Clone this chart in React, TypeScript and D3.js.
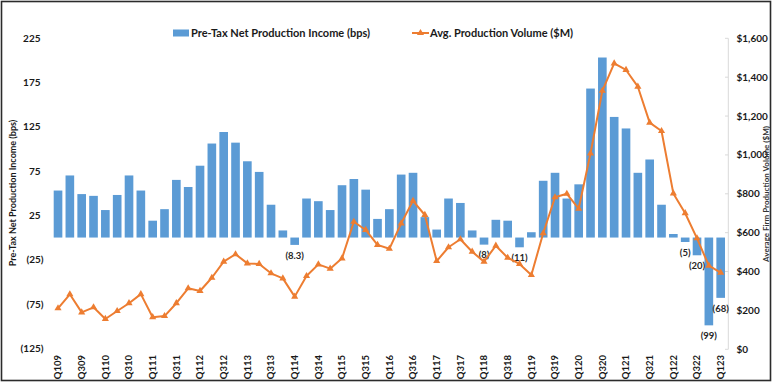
import React from "react";
import * as d3 from "d3";

const quarters = [
  "Q109","Q209","Q309","Q409","Q110","Q210","Q310","Q410","Q111","Q211","Q311","Q411",
  "Q112","Q212","Q312","Q412","Q113","Q213","Q313","Q413","Q114","Q214","Q314","Q414",
  "Q115","Q215","Q315","Q415","Q116","Q216","Q316","Q416","Q117","Q217","Q317","Q417",
  "Q118","Q218","Q318","Q418","Q119","Q219","Q319","Q419","Q120","Q220","Q320","Q420",
  "Q121","Q221","Q321","Q421","Q122","Q222","Q322","Q422","Q123",
];

const incomeBps = [
  53, 70, 49, 47, 31, 48, 70, 53, 19, 32, 65, 57, 81, 106, 119, 107, 86, 74, 37, 8,
  -8.3, 44, 41, 31, 59, 66, 54, 21, 32, 71, 73, 23, 9, 44, 39, 8, -8, 20, 19, -11,
  6, 64, 73, 44, 60, 168, 203, 136, 123, 73, 88, 37, 4, -5, -20, -99, -68,
];

const volumeM = [
  211, 283, 190, 216, 156, 197, 237, 284, 165, 171, 237, 314, 300, 368, 451, 489, 442, 439, 391, 365,
  271, 377, 437, 415, 468, 656, 614, 537, 517, 648, 764, 691, 454, 525, 566, 502, 451, 533, 471, 439,
  382, 597, 782, 800, 724, 1008, 1330, 1471, 1437, 1351, 1166, 1123, 802, 700, 571, 430, 394,
];

const leftTicks = [225, 175, 125, 75, 25, -25, -75, -125];
const rightTicks = [0, 200, 400, 600, 800, 1000, 1200, 1400, 1600];

const barName = "Pre-Tax Net Production Income (bps)";
const lineName = "Avg. Production Volume ($M)";
const leftTitle = "Pre-Tax Net Production Income (bps)";
const rightTitle = "Average Firm Production Volume ($M)";

const W = 773;
const H = 383;
const FONT = "Lato, 'Liberation Sans', sans-serif";
const BLUE = "#5B9BD5";
const ORANGE = "#ED7D31";
const TEXT = "#1a1a1a";

const fmtNeg = (v: number) => (v < 0 ? `(${Math.abs(v)})` : `${v}`);
const fmtMoney = d3.format("$,");

export default function App() {
  const x = d3.scaleBand<string>().domain(quarters).range([52.1, 726.6]).paddingInner(0.27).paddingOuter(0.135);
  const yL = d3.scaleLinear().domain([-125, 225]).range([348.4, 38]);
  const yR = d3.scaleLinear().domain([0, 1600]).range([349.3, 38.3]);
  const cx = (q: string) => (x(q) as number) + x.bandwidth() / 2;

  const line = d3
    .line<number>()
    .x((_, i) => cx(quarters[i]))
    .y((d) => yR(d));

  const tri = d3.symbol().type(d3.symbolTriangle).size(22)() as string;

  return (
    <svg
      width={W}
      height={H}
      style={{ position: "absolute", left: 0, top: 0, display: "block", background: "#fff" }}
      fontFamily={FONT}
    >
      <rect x={0} y={0} width={W} height={H} fill="#fff" />
      <rect x={1.5} y={1.5} width={769} height={379} fill="none" stroke="#2b2b2b" strokeWidth={1.6} />

      {/* legend */}
      <rect x={173} y={29.5} width={16} height={7} fill={BLUE} />
      <text x={191} y={33} dy="0.35em" fontSize={11} fontWeight="bold" fill={TEXT}>
        {barName}
      </text>
      <line x1={412} x2={429} y1={33} y2={33} stroke={ORANGE} strokeWidth={2} />
      <path d={tri} transform="translate(420.5,33)" fill={ORANGE} />
      <text x={430} y={33} dy="0.35em" fontSize={11} fontWeight="bold" fill={TEXT}>
        {lineName}
      </text>

      {/* left axis labels */}
      {leftTicks.map((t) => (
        <text
          key={"l" + t}
          x={t < 0 ? 43.5 : 40.5}
          y={yL(t)}
          dy="0.35em"
          textAnchor="end"
          fontSize={10}
          fontWeight="bold"
          fill={TEXT}
        >
          {fmtNeg(t)}
        </text>
      ))}
      <text
        transform={`translate(13,193) rotate(-90)`}
        textAnchor="middle"
        dy="0.35em"
        fontSize={9}
        fontWeight="bold"
        fill={TEXT}
      >
        {leftTitle}
      </text>

      {/* right axis */}
      <line x1={728.3} x2={728.3} y1={yR(0)} y2={yR(1600)} stroke="#d9d9d9" strokeWidth={1} />
      {rightTicks.map((t) => (
        <g key={"r" + t}>
          <line x1={725} x2={728.3} y1={yR(t)} y2={yR(t)} stroke="#d9d9d9" strokeWidth={1} />
          <text x={736.5} y={yR(t)} dy="0.35em" fontSize={10} fontWeight="bold" fill={TEXT}>
            {fmtMoney(t)}
          </text>
        </g>
      ))}
      <text
        transform={`translate(766,194) rotate(-90)`}
        textAnchor="middle"
        dy="0.35em"
        fontSize={8}
        fontWeight="bold"
        fill="#333"
      >
        {rightTitle}
      </text>

      {/* bars */}
      {incomeBps.map((v, i) => (
        <rect
          key={"b" + i}
          x={x(quarters[i])}
          width={x.bandwidth()}
          y={Math.min(yL(v), yL(0))}
          height={Math.abs(yL(v) - yL(0))}
          fill={BLUE}
        />
      ))}

      {/* negative labels */}
      {incomeBps.map((v, i) =>
        v < 0 ? (
          <text
            key={"nl" + i}
            x={cx(quarters[i])}
            y={yL(v) + 10.5}
            dy="0.35em"
            textAnchor="middle"
            fontSize={9.5}
            fontWeight="bold"
            fill="#262626"
          >
            {fmtNeg(v)}
          </text>
        ) : null
      )}

      {/* line */}
      <path d={line(volumeM) as string} fill="none" stroke={ORANGE} strokeWidth={2} strokeLinejoin="round" />
      {volumeM.map((v, i) => (
        <path key={"m" + i} d={tri} transform={`translate(${cx(quarters[i])},${yR(v)})`} fill={ORANGE} />
      ))}

      {/* x labels */}
      {quarters.map((q, i) =>
        i % 2 === 0 ? (
          <text
            key={"x" + q}
            transform={`translate(${cx(q)},355) rotate(-90)`}
            textAnchor="end"
            dy="0.35em"
            fontSize={9.5}
            fontWeight="bold"
            fill={TEXT}
          >
            {q}
          </text>
        ) : null
      )}
    </svg>
  );
}
